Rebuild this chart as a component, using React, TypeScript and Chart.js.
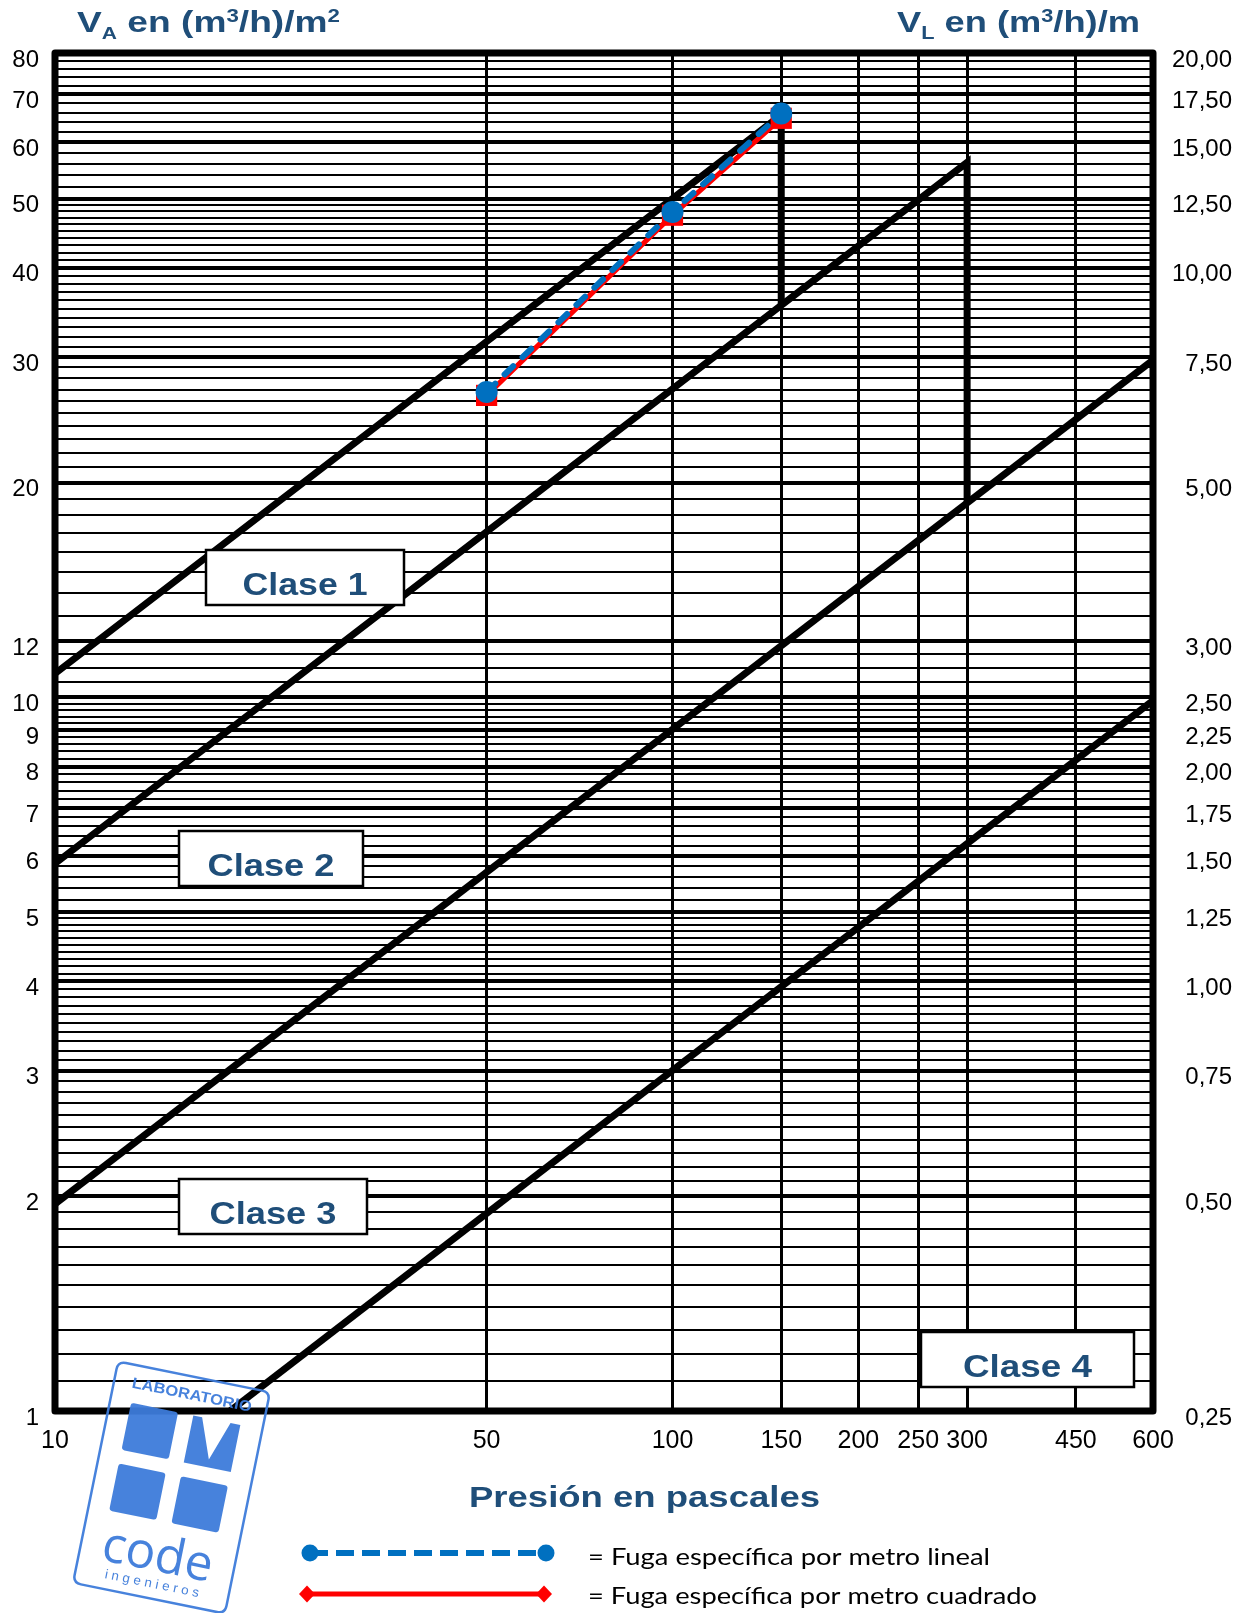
import React, { useEffect, useRef } from 'react';
import { Chart, registerables } from 'chart.js';

Chart.register(...registerables);

// ---------------- data ----------------
const pressureTicks = [10, 50, 100, 150, 200, 250, 300, 450, 600];
const vaLabelTicks = [1, 2, 3, 4, 5, 6, 7, 8, 9, 10, 12, 20, 30, 40, 50, 60, 70, 80];
const vlLabelTicks = [0.25, 0.5, 0.75, 1, 1.25, 1.5, 1.75, 2, 2.25, 2.5, 3, 5, 7.5, 10, 12.5, 15, 17.5, 20];
// minor horizontal grid bands of the VA axis (start, end, step)
const vaGridStarts = [1, 5, 10, 12, 50];
const vaGridEnds = [5, 10, 12, 50, 80];
const vaGridSteps = [0.1, 0.2, 0.5, 1, 2];

const clase1P = [10, 150, 150];
const clase1V = [10.8, 65.5, 35.4];
const clase2P = [10, 300, 300];
const clase2V = [5.85, 56.2, 18.7];
const clase3P = [10, 600];
const clase3V = [1.95, 29.7];
const clase4P = [19.2, 600];
const clase4V = [1, 9.9];

const linealP = [50, 100, 150];
const linealV = [26.8, 47.9, 65.8];
const cuadradoP = [50, 100, 150];
const cuadradoV = [26.5, 47.4, 64.8];

const claseNames = ['Clase 1', 'Clase 2', 'Clase 3', 'Clase 4'];
const legendTexts = ['= Fuga específica por metro lineal', '= Fuga específica por metro cuadrado'];
const xTitle = 'Presión en pascales';

// ---------------- layout / style ----------------
const W = 1248;
const H = 1613;
const FONT = '"Liberation Sans", Arial, sans-serif';
const NAVY = '#1F4E79';
const BLUE = '#0070C0';
const RED = '#FF0000';
const LOGO = '#3D7BDA';
const AREA = { left: 55, top: 53, right: 1153, bottom: 1411 };
const BOXES = [
  [206, 550, 404, 605],
  [179, 831, 363, 886],
  [179, 1179, 367, 1234],
  [921, 1332, 1134, 1387],
];
const BOX_TEXT_W = [125, 127, 127, 129];

const toXY = (ps: number[], vs: number[]) => ps.map((p, i) => ({ x: p, y: vs[i] }));

function buildGridValues(): number[] {
  const out: number[] = [];
  for (let b = 0; b < vaGridStarts.length; b++) {
    const n = Math.round((vaGridEnds[b] - vaGridStarts[b]) / vaGridSteps[b]);
    for (let k = 0; k < n; k++) {
      out.push(Math.round((vaGridStarts[b] + k * vaGridSteps[b]) * 100) / 100);
    }
  }
  out.push(vaGridEnds[vaGridEnds.length - 1]);
  return out;
}

function fitText(ctx: CanvasRenderingContext2D, text: string, font: string, color: string,
  x: number, baseline: number, width: number, center = false) {
  ctx.save();
  ctx.font = font;
  const natural = ctx.measureText(text).width;
  const sx = width / natural;
  ctx.translate(center ? x - width / 2 : x, baseline);
  ctx.scale(sx, 1);
  ctx.fillStyle = color;
  ctx.textAlign = 'left';
  ctx.textBaseline = 'alphabetic';
  ctx.fillText(text, 0, 0);
  ctx.restore();
}

type Seg = { t: string; size: number; dy: number };
function richText(ctx: CanvasRenderingContext2D, segs: Seg[], x: number, baseline: number, width: number) {
  ctx.save();
  let total = 0;
  const widths = segs.map((s) => {
    ctx.font = `bold ${s.size}px ${FONT}`;
    const w = ctx.measureText(s.t).width;
    total += w;
    return w;
  });
  ctx.translate(x, baseline);
  ctx.scale(width / total, 1);
  ctx.fillStyle = NAVY;
  ctx.textAlign = 'left';
  ctx.textBaseline = 'alphabetic';
  let cx = 0;
  segs.forEach((s, i) => {
    ctx.font = `bold ${s.size}px ${FONT}`;
    ctx.fillText(s.t, cx, s.dy);
    cx += widths[i];
  });
  ctx.restore();
}

function roundRectPath(ctx: CanvasRenderingContext2D, x: number, y: number, w: number, h: number, r: number) {
  ctx.beginPath();
  ctx.moveTo(x + r, y);
  ctx.lineTo(x + w - r, y);
  ctx.quadraticCurveTo(x + w, y, x + w, y + r);
  ctx.lineTo(x + w, y + h - r);
  ctx.quadraticCurveTo(x + w, y + h, x + w - r, y + h);
  ctx.lineTo(x + r, y + h);
  ctx.quadraticCurveTo(x, y + h, x, y + h - r);
  ctx.lineTo(x, y + r);
  ctx.quadraticCurveTo(x, y, x + r, y);
  ctx.closePath();
}

function drawLogo(ctx: CanvasRenderingContext2D) {
  ctx.save();
  ctx.translate(171.5, 1487.5);
  ctx.rotate((11.5 * Math.PI) / 180);
  ctx.translate(-77.5, -113);
  ctx.globalAlpha = 0.95;
  ctx.strokeStyle = LOGO;
  ctx.fillStyle = LOGO;
  ctx.lineWidth = 2.5;
  roundRectPath(ctx, 0, 0, 155, 226, 8);
  ctx.stroke();
  fitText(ctx, 'LABORATORIO', `bold 15px ${FONT}`, LOGO, 79, 23, 122, true);
  const s = 48;
  // top-left square
  roundRectPath(ctx, 45 - s / 2, 62 - s / 2, s, s, 3);
  ctx.fill();
  // top-right square with V notch
  const ox = 108.5 - s / 2;
  const oy = 62 - s / 2;
  ctx.beginPath();
  ctx.moveTo(ox, oy);
  ctx.lineTo(ox + 9, oy);
  ctx.lineTo(ox + 24, oy + 40);
  ctx.lineTo(ox + 38, oy);
  ctx.lineTo(ox + s, oy);
  ctx.lineTo(ox + s, oy + s);
  ctx.lineTo(ox, oy + s);
  ctx.closePath();
  ctx.fill();
  // bottom squares
  roundRectPath(ctx, 45 - s / 2, 124 - s / 2, s, s, 3);
  ctx.fill();
  roundRectPath(ctx, 108.5 - s / 2, 124 - s / 2, s, s, 3);
  ctx.fill();
  // code
  ctx.lineWidth = 1.5;
  fitText(ctx, 'code', `50px "Open Sans", ${FONT}`, LOGO, 77.5, 198, 112, true);
  fitText(ctx, 'i n g e n i e r o s', `13px ${FONT}`, LOGO, 77.5, 215, 96, true);
  ctx.restore();
}

const overlayPlugin = {
  id: 'overlay',
  afterDatasetsDraw(chart: any) {
    const ctx: CanvasRenderingContext2D = chart.ctx;
    const a = chart.chartArea;
    ctx.save();
    // frame
    ctx.strokeStyle = '#000';
    ctx.lineWidth = 7;
    ctx.lineJoin = 'round';
    ctx.strokeRect(a.left, a.top, a.right - a.left, a.bottom - a.top);
    // class boxes
    BOXES.forEach((b, i) => {
      ctx.fillStyle = '#fff';
      ctx.fillRect(b[0], b[1], b[2] - b[0], b[3] - b[1]);
      ctx.strokeStyle = '#000';
      ctx.lineWidth = 2.5;
      ctx.lineJoin = 'miter';
      ctx.strokeRect(b[0], b[1], b[2] - b[0], b[3] - b[1]);
      fitText(ctx, claseNames[i], `bold 32px ${FONT}`, NAVY, (b[0] + b[2]) / 2, b[1] + 45, BOX_TEXT_W[i], true);
    });
    ctx.restore();
  },
  afterDraw(chart: any) {
    const ctx: CanvasRenderingContext2D = chart.ctx;
    ctx.save();
    // axis titles
    richText(ctx, [
      { t: 'V', size: 30, dy: 0 },
      { t: 'A', size: 17, dy: 7 },
      { t: ' en (m', size: 30, dy: 0 },
      { t: '3', size: 18, dy: -10 },
      { t: '/h)/m', size: 30, dy: 0 },
      { t: '2', size: 18, dy: -10 },
    ], 77, 32, 263);
    richText(ctx, [
      { t: 'V', size: 30, dy: 0 },
      { t: 'L', size: 18, dy: 7 },
      { t: ' en (m', size: 30, dy: 0 },
      { t: '3', size: 18, dy: -10 },
      { t: '/h)/m', size: 30, dy: 0 },
    ], 897, 32, 243);
    fitText(ctx, xTitle, `bold 30px ${FONT}`, NAVY, 469, 1507, 351);

    // legend
    ctx.lineCap = 'butt';
    ctx.strokeStyle = BLUE;
    ctx.lineWidth = 6;
    ctx.setLineDash([18, 8]);
    ctx.beginPath();
    ctx.moveTo(310, 1553);
    ctx.lineTo(546, 1553);
    ctx.stroke();
    ctx.setLineDash([]);
    ctx.fillStyle = BLUE;
    [310, 546].forEach((x) => {
      ctx.beginPath();
      ctx.arc(x, 1553, 8.5, 0, Math.PI * 2);
      ctx.fill();
    });
    ctx.strokeStyle = RED;
    ctx.lineWidth = 5;
    ctx.beginPath();
    ctx.moveTo(306, 1594);
    ctx.lineTo(545, 1594);
    ctx.stroke();
    ctx.fillStyle = RED;
    [307, 544].forEach((x) => {
      ctx.beginPath();
      ctx.moveTo(x - 8, 1594);
      ctx.lineTo(x, 1585.5);
      ctx.lineTo(x + 8, 1594);
      ctx.lineTo(x, 1602.5);
      ctx.closePath();
      ctx.fill();
    });
    fitText(ctx, legendTexts[0], `24px Lato, ${FONT}`, '#000', 588, 1565, 402);
    fitText(ctx, legendTexts[1], `24px Lato, ${FONT}`, '#000', 588, 1604, 449);

    drawLogo(ctx);
    ctx.restore();
  },
};

export default function App() {
  const ref = useRef<HTMLCanvasElement | null>(null);

  useEffect(() => {
    if (!ref.current) return;
    const gridValues = buildGridValues();
    const majorSet = new Set(vaLabelTicks);

    const chart = new Chart(ref.current, {
      type: 'scatter',
      data: {
        datasets: [
          {
            label: 'Fuga específica por metro lineal',
            data: toXY(linealP, linealV),
            showLine: true,
            borderColor: BLUE,
            backgroundColor: BLUE,
            borderWidth: 6,
            borderDash: [12, 13],
            borderCapStyle: 'round',
            pointStyle: 'circle',
            pointRadius: 11,
            pointBorderWidth: 0,
            pointBackgroundColor: BLUE,
          },
          {
            label: 'Fuga específica por metro cuadrado',
            data: toXY(cuadradoP, cuadradoV),
            showLine: true,
            borderColor: RED,
            backgroundColor: RED,
            borderWidth: 5,
            pointStyle: 'rect',
            pointRadius: 15,
            pointBorderWidth: 0,
            pointBackgroundColor: RED,
          },
          ...[
            toXY(clase1P, clase1V),
            toXY(clase2P, clase2V),
            toXY(clase3P, clase3V),
            toXY(clase4P, clase4V),
          ].map((d, i) => ({
            label: claseNames[i],
            data: d,
            showLine: true,
            borderColor: '#000',
            backgroundColor: '#000',
            borderWidth: 7,
            borderJoinStyle: 'miter' as const,
            pointRadius: 0,
          })),
        ],
      },
      options: {
        responsive: false,
        animation: false,
        devicePixelRatio: 1,
        layout: { padding: { top: AREA.top, right: 16, left: 0, bottom: 0 } },
        plugins: {
          legend: { display: false },
          tooltip: { enabled: false },
          title: { display: false },
        },
        scales: {
          x: {
            type: 'logarithmic',
            min: 10,
            max: 600,
            afterBuildTicks: (s: any) => {
              s.ticks = pressureTicks.map((v) => ({ value: v }));
            },
            afterFit: (s: any) => {
              s.height = H - AREA.bottom;
            },
            ticks: {
              autoSkip: false,
              maxRotation: 0,
              padding: 15,
              color: '#000',
              font: { family: FONT, size: 25 },
              callback: (v: any) => String(v),
            },
            grid: { color: '#000', lineWidth: 3, drawTicks: false },
            border: { display: false },
          },
          y: {
            type: 'logarithmic',
            position: 'left',
            min: 1,
            max: 80,
            afterBuildTicks: (s: any) => {
              s.ticks = gridValues.map((v) => ({ value: v }));
            },
            afterFit: (s: any) => {
              s.width = AREA.left;
            },
            ticks: {
              autoSkip: false,
              padding: 16,
              labelOffset: 7,
              color: '#000',
              font: { family: FONT, size: 24 },
              callback: (v: any) => (majorSet.has(Number(v)) ? String(v) : ''),
            },
            grid: {
              color: '#000',
              drawTicks: false,
              lineWidth: (c: any) => (c.tick && majorSet.has(c.tick.value) ? 4 : 2),
            },
            border: { display: false },
          },
          y2: {
            type: 'logarithmic',
            position: 'right',
            min: 0.25,
            max: 20,
            afterBuildTicks: (s: any) => {
              s.ticks = vlLabelTicks.map((v) => ({ value: v }));
            },
            afterFit: (s: any) => {
              s.width = W - 16 - AREA.right;
            },
            ticks: {
              autoSkip: false,
              padding: 10,
              labelOffset: 7,
              crossAlign: 'far',
              color: '#000',
              font: { family: FONT, size: 24 },
              callback: (v: any) => Number(v).toFixed(2).replace('.', ','),
            },
            grid: { display: false, drawTicks: false },
            border: { display: false },
          },
        },
      } as any,
      plugins: [overlayPlugin],
    });
    return () => chart.destroy();
  }, []);

  return (
    <div style={{ position: 'absolute', left: 0, top: 0, width: W, height: H, background: '#fff' }}>
      <canvas ref={ref} width={W} height={H} style={{ width: W, height: H, display: 'block' }} />
    </div>
  );
}
